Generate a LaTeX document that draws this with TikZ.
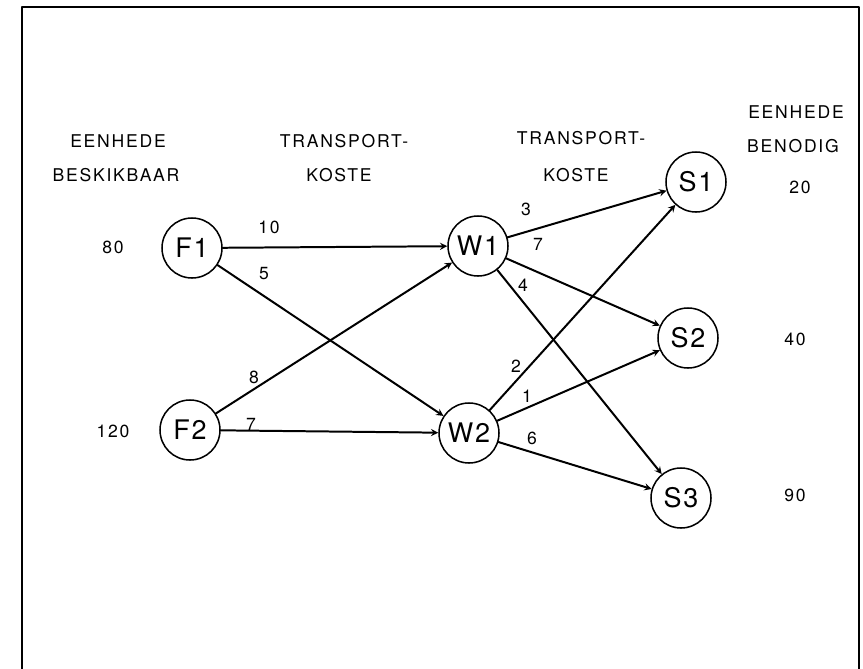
\documentclass[tikz,border=0pt]{standalone}
\usepackage{fontspec}
\setmainfont{TeX Gyre Heros}
\newfontfamily\spaced{TeX Gyre Heros}[LetterSpace=10]
\newfontfamily\stnfont{TeX Gyre Heros}[LetterSpace=6]

\begin{document}
\begin{tikzpicture}[x=0.03cm, y=-0.03cm, >=stealth, line join=round, line cap=round,
	stn/.style={draw, circle, line width=1.3pt, minimum size=1.8cm, inner sep=0pt, font=\stnfont\fontsize{23}{25}\selectfont},
	txt/.style={inner sep=0pt, font=\spaced\fontsize{15}{17}\selectfont},
	road/.style={->, line width=1.7pt}]
	\useasboundingbox (0,0) rectangle (863,668);
	% frame
	\draw[line width=1.5pt] (22,690) -- (22,7) -- (859,7) -- (859,690);
	% factories, warehouses, shops
	\node[stn] (F1) at (192,248) {F1};
	\node[stn] (F2) at (190,430) {F2};
	\node[stn] (W1) at (478,246) {W1};
	\node[stn] (W2) at (469,433) {W2};
	\node[stn] (S1) at (696,182) {S1};
	\node[stn] (S2) at (688,338) {S2};
	\node[stn] (S3) at (681,498) {S3};
	% routes
	\draw[road] (F1) -- (W1);
	\draw[road] (F1) -- (W2);
	\draw[road] (F2) -- (W1);
	\draw[road] (F2) -- (W2);
	\draw[road] (W1) -- (S1);
	\draw[road] (W1) -- (S2);
	\draw[road] (W1) -- (S3);
	\draw[road] (W2) -- (S1);
	\draw[road] (W2) -- (S2);
	\draw[road] (W2) -- (S3);
	% costs
	\node[txt] (c11) at (269,227) {10};
	\node[txt] (c12) at (264,274) {5};
	\node[txt] (c21) at (254,377) {8};
	\node[txt] (c22) at (251,424) {7};
	\node[txt] (d11) at (526,209) {3};
	\node[txt] (d12) at (538,244) {7};
	\node[txt] (d13) at (523,285) {4};
	\node[txt] (d21) at (516,366) {2};
	\node[txt] (d22) at (527,396) {1};
	\node[txt] (d23) at (532,438) {6};
	% headings
	\node[txt] (h1) at (118,141) {EENHEDE};
	\node[txt] (h2) at (116,175) {BESKIKBAAR};
	\node[txt] (h3) at (344,141) {TRANSPORT-};
	\node[txt] (h4) at (339,175) {KOSTE};
	\node[txt] (h5) at (581,138) {TRANSPORT-};
	\node[txt] (h6) at (576,175) {KOSTE};
	\node[txt] (h7) at (796,112) {EENHEDE};
	\node[txt] (h8) at (793,146) {BENODIG};
	% supply and demand
	\node[txt] (a1) at (113,247) {80};
	\node[txt] (a2) at (113,431) {120};
	\node[txt] (b1) at (800,187) {20};
	\node[txt] (b2) at (795,339) {40};
	\node[txt] (b3) at (795,495) {90};
\end{tikzpicture}
\end{document}
